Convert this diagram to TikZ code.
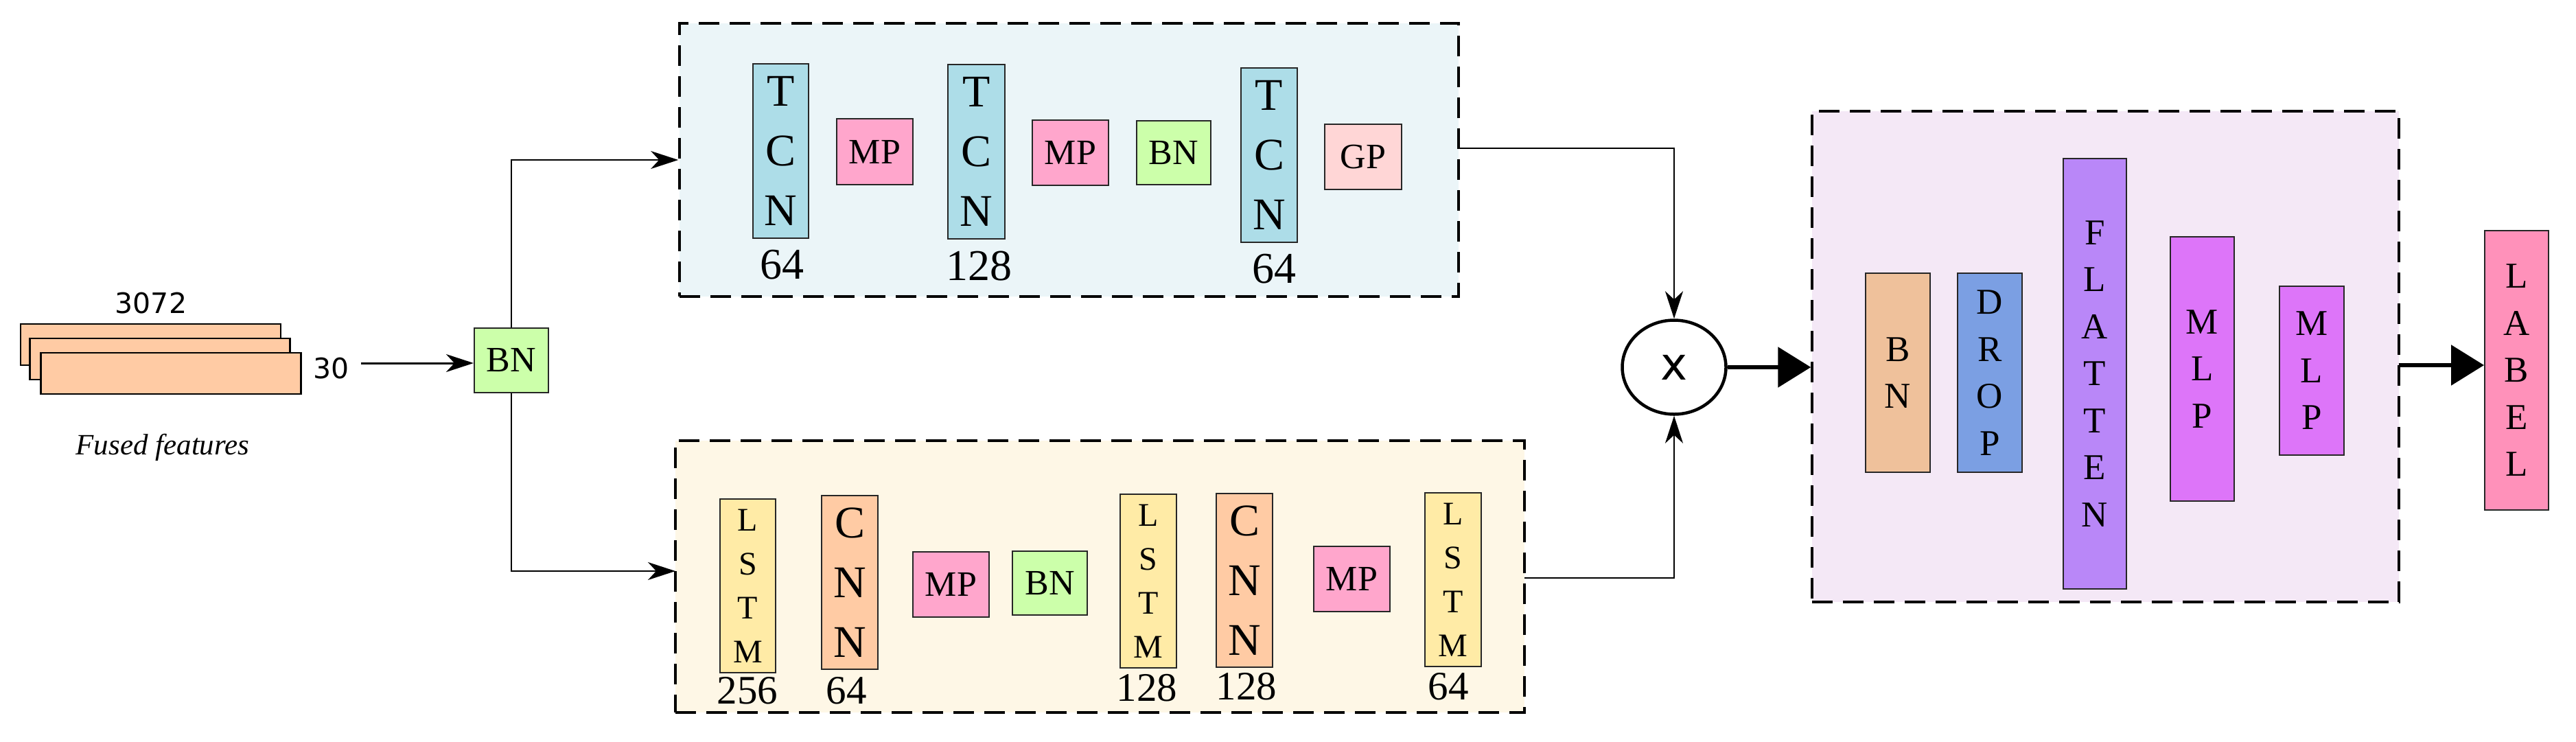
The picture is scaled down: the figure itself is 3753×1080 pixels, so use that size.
\documentclass[tikz,border=0pt]{standalone}
\usepackage{fontspec}
\setmainfont{Liberation Serif}
\newfontfamily\dvs{DejaVu Sans}
\usetikzlibrary{arrows.meta,shapes.geometric}
\definecolor{peach}{HTML}{FFCBA4}
\definecolor{bngreen}{HTML}{CCFFAA}
\definecolor{topbg}{HTML}{EBF5F8}
\definecolor{botbg}{HTML}{FEF7E6}
\definecolor{purbg}{HTML}{F4E8F6}
\definecolor{tcnblue}{HTML}{ADDDE8}
\definecolor{mppink}{HTML}{FFA6CC}
\definecolor{gppink}{HTML}{FFD6D6}
\definecolor{lstmyel}{HTML}{FFEBA6}
\definecolor{rbntan}{HTML}{EFC19B}
\definecolor{dropblue}{HTML}{7B9FE3}
\definecolor{flatpur}{HTML}{B987F8}
\definecolor{mlpmag}{HTML}{DD75F9}
\definecolor{labpink}{HTML}{FF91BA}
\begin{document}
\begin{tikzpicture}[x=1pt,y=-1pt,
  blk/.style={draw=black!85, line width=2pt, inner sep=0pt, align=center},
  grp/.style={draw, line width=3.5pt, dash pattern=on 30pt off 15pt, inner sep=0pt},
  conn/.style={line width=2pt, -{Stealth[length=40pt,width=26pt,inset=12pt]}},
  big/.style={line width=6pt, -{Triangle[length=48pt,width=58pt]}},
  vtall/.style={font=\fontsize{66}{87}\selectfont},
  vsm/.style={font=\fontsize{48}{64}\selectfont},
  vr/.style={font=\fontsize{53}{68.5}\selectfont},
  hb/.style={font=\fontsize{52}{52}\selectfont},
  num/.style={font=\fontsize{64}{64}\selectfont, anchor=base, inner sep=0pt},
  numb/.style={font=\fontsize{59}{59}\selectfont, anchor=base, inner sep=0pt},
  dims/.style={font=\dvs\fontsize{41}{41}\selectfont, inner sep=0pt},
]
\path[use as bounding box] (0,0) rectangle (3753,1080);

% group frames
\node[grp, fill=topbg, minimum width=1135pt, minimum height=398pt] (top) at (1557.5,233) {};
\node[grp, fill=botbg, minimum width=1237pt, minimum height=396pt] (bot) at (1602.5,840) {};
\node[grp, fill=purbg, minimum width=855pt, minimum height=715pt] (purp) at (3067.5,519.5) {};

% input features
\node[blk, line width=2.5pt, draw=black, fill=peach, minimum width=379pt, minimum height=60pt] (f1) at (219.5,502) {};
\node[blk, line width=2.5pt, draw=black, fill=peach, minimum width=379pt, minimum height=60pt] (f2) at (233,523) {};
\node[blk, line width=2.5pt, draw=black, fill=peach, minimum width=379pt, minimum height=60pt] (f3) at (249,544) {};
\node[dims] (d1) at (220,442) {3072};
\node[dims] (d2) at (483,537) {30};
\node[font=\itshape\fontsize{43}{43}\selectfont] (cap) at (237,652) {Fused features};

\node[blk, hb, fill=bngreen, minimum width=108pt, minimum height=94pt] (bn) at (745,525) {BN};

% top branch
\node[blk, vtall, fill=tcnblue, minimum width=81pt, minimum height=254pt] (tcn1) at (1137.5,220) {T\\C\\N};
\node[blk, hb, fill=mppink, minimum width=111pt, minimum height=96pt] (mp1) at (1274.5,221) {MP};
\node[blk, vtall, fill=tcnblue, minimum width=83pt, minimum height=254pt] (tcn2) at (1422.5,221) {T\\C\\N};
\node[blk, hb, fill=mppink, minimum width=111pt, minimum height=95pt] (mp2) at (1559.5,222.5) {MP};
\node[blk, hb, fill=bngreen, minimum width=108pt, minimum height=93pt] (bn2) at (1710,222.5) {BN};
\node[blk, vtall, fill=tcnblue, minimum width=82pt, minimum height=254pt] (tcn3) at (1849,226) {T\\C\\N};
\node[blk, hb, fill=gppink, minimum width=112pt, minimum height=95pt] (gp) at (1986,228.5) {GP};
\node[num] (n1) at (1139,406) {64};
\node[num] (n2) at (1426,408) {128};
\node[num] (n3) at (1856,412) {64};

% bottom branch
\node[blk, vsm, fill=lstmyel, minimum width=81pt, minimum height=253pt] (lstm1) at (1089.5,853.5) {L\\S\\T\\M};
\node[blk, vtall, fill=peach, minimum width=82pt, minimum height=253pt] (cnn1) at (1238,848.5) {C\\N\\N};
\node[blk, hb, fill=mppink, minimum width=111pt, minimum height=95pt] (mp3) at (1385.5,851.5) {MP};
\node[blk, hb, fill=bngreen, minimum width=109pt, minimum height=93pt] (bn3) at (1529.5,849.5) {BN};
\node[blk, vsm, fill=lstmyel, minimum width=82pt, minimum height=253pt] (lstm2) at (1673,846.5) {L\\S\\T\\M};
\node[blk, vtall, fill=peach, minimum width=82pt, minimum height=253pt] (cnn2) at (1813,845.5) {C\\N\\N};
\node[blk, hb, fill=mppink, minimum width=111pt, minimum height=95pt] (mp4) at (1969.5,843.5) {MP};
\node[blk, vsm, fill=lstmyel, minimum width=82pt, minimum height=253pt] (lstm3) at (2117,844.5) {L\\S\\T\\M};
\node[numb] (n4) at (1089,1025) {256};
\node[numb] (n5) at (1233,1025) {64};
\node[numb] (n6) at (1671,1021) {128};
\node[numb] (n7) at (1816,1019) {128};
\node[numb] (n8) at (2110,1019) {64};

% merge
\node[draw, ellipse, line width=4.5pt, minimum width=151pt, minimum height=137pt, inner sep=0pt, font=\dvs\fontsize{66}{66}\selectfont] (mul) at (2439,535) {x};

% head
\node[blk, vr, fill=rbntan, minimum width=94pt, minimum height=290pt] (rbn) at (2765,543) {B\\N};
\node[blk, vr, fill=dropblue, minimum width=94pt, minimum height=290pt] (drop) at (2899,543) {D\\R\\O\\P};
\node[blk, vr, fill=flatpur, minimum width=92pt, minimum height=627pt] (flat) at (3052,544.5) {F\\L\\A\\T\\T\\E\\N};
\node[blk, vr, fill=mlpmag, minimum width=93pt, minimum height=385pt] (mlp1) at (3208.5,537.5) {M\\L\\P};
\node[blk, vr, fill=mlpmag, minimum width=94pt, minimum height=246pt] (mlp2) at (3368,540) {M\\L\\P};
\node[blk, vr, fill=labpink, minimum width=93pt, minimum height=407pt] (label) at (3666.5,539.5) {L\\A\\B\\E\\L};

% connectors
\coordinate (in30) at (526,529);
\draw[conn, line width=3pt] (in30) -- (in30 -| bn.west);
\draw[conn] (bn.north) |- (top.west);
\coordinate (botin) at (984,832);
\draw[conn] (bn.south) |- (botin);
\coordinate (topout) at (2125,216);
\draw[conn] (topout) -| (mul.north);
\coordinate (botout) at (2221,842);
\draw[conn] (botout) -| (mul.south);
\draw[big] (mul.east) -- (mul.east -| purp.west);
\coordinate (purpout) at (3495,532);
\draw[big] (purpout) -- (purpout -| label.west);
\end{tikzpicture}
\end{document}
